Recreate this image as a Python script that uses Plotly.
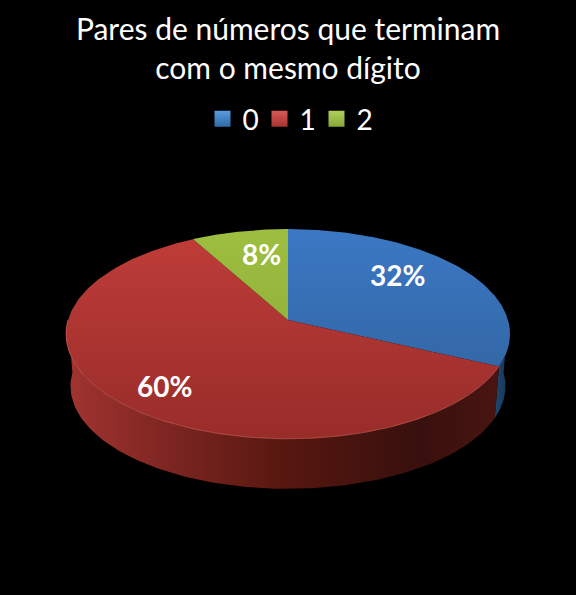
import numpy as np
import plotly.graph_objects as go

# Data
categories = ["0", "1", "2"]
values = [32, 60, 8]
labels = ["32%", "60%", "8%"]
title_lines = ["Pares de números que terminam", "com o mesmo dígito"]

# Style
top_grad = [("#3b78c4", "#2f5f98"), ("#c03d39", "#982c29"), ("#9dbe40", "#88a935")]
side_grad = [("#1f4870", "#16334f"),
             [[0, "#a03330"], [0.25, "#7a2420"], [0.5, "#56170f"], [0.8, "#38100d"], [1, "#4a1512"]],
             ("#4d6420", "#3d5019")]
legend_top = ["#5b9be0", "#d85a56", "#b0d05a"]
legend_bottom = ["#2f6aa8", "#a83330", "#86a838"]
label_xy = [(397, 275), (164, 386), (261, 254)]

# Perspective-circle geometry (pixel-space axes)
CX, CY, RX, RY, K = 288, 320, 220, 103, 0.133
DEPTH_CY, DEPTH_S = 372.4, 0.98


def project(theta, r=1.0, cy=CY, s=1.0):
    u, v = r * np.sin(theta), -r * np.cos(theta)
    d = 1 - K * v
    return CX + s * RX * u / d, cy + s * RY * v / d


fig = go.Figure()
edges = np.cumsum([0] + values) / sum(values) * 2 * np.pi
lo, hi = np.pi / 2, 3 * np.pi / 2

# side walls
for i, cat in enumerate(categories):
    a, b = max(edges[i], lo), min(edges[i + 1], hi)
    if a >= b:
        continue
    th = np.linspace(a, b, 120)
    x1, y1 = project(th)
    x2, y2 = project(th, cy=DEPTH_CY, s=DEPTH_S)
    g = side_grad[i]
    cs = g if isinstance(g, list) else [[0, g[0]], [1, g[1]]]
    fig.add_trace(go.Scatter(
        x=np.r_[x1, x2[::-1]], y=np.r_[y1, y2[::-1]], mode="lines", fill="toself",
        line=dict(width=0), showlegend=False, hoverinfo="skip",
        fillgradient=dict(type="horizontal", colorscale=cs,
                          start=70 if i == 1 else None, stop=505 if i == 1 else None)))

# top faces
for i, cat in enumerate(categories):
    th = np.linspace(edges[i], edges[i + 1], 200)
    x, y = project(th)
    fig.add_trace(go.Scatter(
        x=np.r_[CX, x, CX], y=np.r_[CY, y, CY], mode="lines", fill="toself",
        line=dict(width=0), showlegend=False, name=cat, hoverinfo="skip",
        fillgradient=dict(type="vertical", start=229, stop=439,
                          colorscale=[[0, top_grad[i][0]], [1, top_grad[i][1]]])))

# light rim along the front edge
th = np.linspace(np.radians(115.2), np.radians(270), 200)
x, y = project(th)
fig.add_trace(go.Scatter(x=x, y=y, mode="lines", showlegend=False, hoverinfo="skip",
                         line=dict(color="rgba(225,110,100,0.55)", width=1)))

# legend entries
for cat, c1, c2 in zip(categories, legend_top, legend_bottom):
    fig.add_trace(go.Scatter(x=[None], y=[None], mode="markers", name=cat,
                             marker=dict(symbol="square", size=17, color=c1,
                                         gradient=dict(type="vertical", color=c2))))

for text, (lx, ly) in zip(labels, label_xy):
    fig.add_annotation(x=lx, y=ly, text=f"<b>{text}</b>", showarrow=False,
                       font=dict(family="Lato", size=28, color="white"))

fig.update_layout(
    width=576, height=595, autosize=False,
    margin=dict(l=0, r=0, t=0, b=0),
    paper_bgcolor="black", plot_bgcolor="black",
    xaxis=dict(range=[0, 576], visible=False, fixedrange=True),
    yaxis=dict(range=[595, 0], visible=False, fixedrange=True),
    title=dict(text="<br>".join(title_lines), x=0.5, xanchor="center", y=0.932, yanchor="top",
               font=dict(family="Lato", size=30, color="white")),
    legend=dict(orientation="h", x=0.5, xanchor="center", y=0.80, yanchor="middle",
                font=dict(family="Lato", size=28, color="white"),
                entrywidth=12, entrywidthmode="pixels", itemclick=False, itemdoubleclick=False,
                bgcolor="rgba(0,0,0,0)"),
    showlegend=True,
)
fig.write_html("out.html", config=dict(displayModeBar=False),
               post_script="document.body.style.margin='0';document.documentElement.style.background='black';")
